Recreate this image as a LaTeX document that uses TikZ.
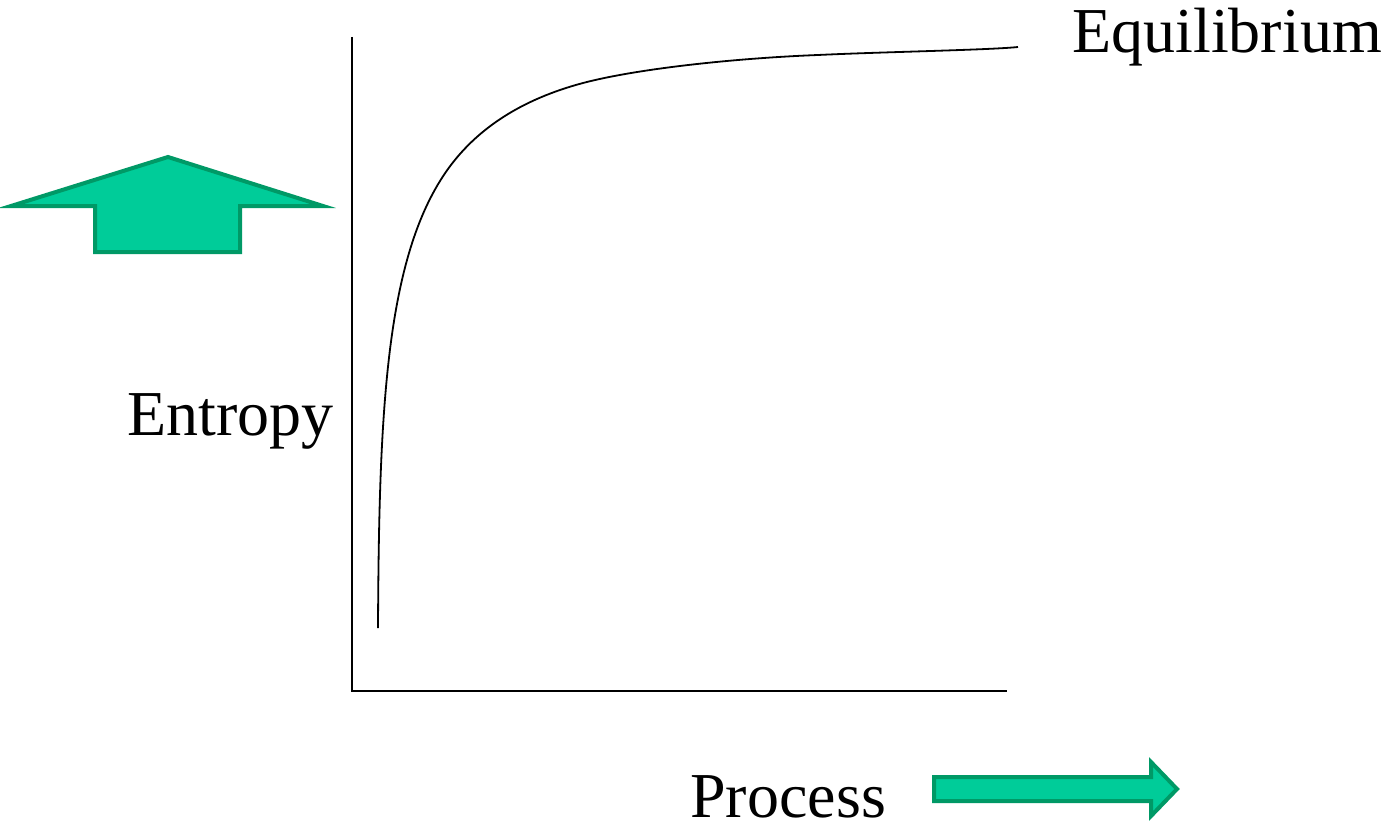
\documentclass[tikz,border=0pt]{standalone}
\usepackage{fontspec}
\setmainfont{Liberation Serif}
\definecolor{arrowfill}{HTML}{00CC99}
\definecolor{arrowline}{HTML}{009966}
\begin{document}
\begin{tikzpicture}[x=0.5pt,y=-0.5pt,
  label text/.style={inner sep=0pt,anchor=base west,font=\fontsize{32}{38}\selectfont},
  green arrow/.style={fill=arrowfill,draw=arrowline,line width=2pt,line join=miter},
  axis/.style={line width=1pt},
  curve/.style={line width=0.9pt}]
\useasboundingbox (0,0) rectangle (1391,829);
% axes
\coordinate (top) at (352,37);
\coordinate (origin) at (352,691);
\coordinate (right) at (1007,691);
\draw[axis] (top) -- (origin) -- (right);
% curve
\coordinate (c0) at (378,628);
\coordinate (c1) at (440,181);
\coordinate (c2) at (583,83);
\coordinate (c3) at (818,55);
\coordinate (c4) at (1018,47);
\draw[curve] (c0) .. controls (379,420) and (385,270) .. (c1)
  .. controls (472,129) and (523,99) .. (c2)
  .. controls (640,68) and (740,58) .. (c3)
  .. controls (880,52) and (990,50) .. (c4);
% texts
\node[label text] (equil) at (1072,53) {Equilibrium};
\node[label text] (entropy) at (127,435) {Entropy};
\node[label text] (process) at (690,817) {Process};
% up arrow
\draw[green arrow] (168,157) -- (11,206) -- (95,206) -- (95,252) -- (240,252)
  -- (240,206) -- (323,206) -- cycle;
% right arrow
\draw[green arrow] (934,777) -- (1151,777) -- (1151,762) -- (1177,789)
  -- (1151,816) -- (1151,801) -- (934,801) -- cycle;
\end{tikzpicture}
\end{document}
